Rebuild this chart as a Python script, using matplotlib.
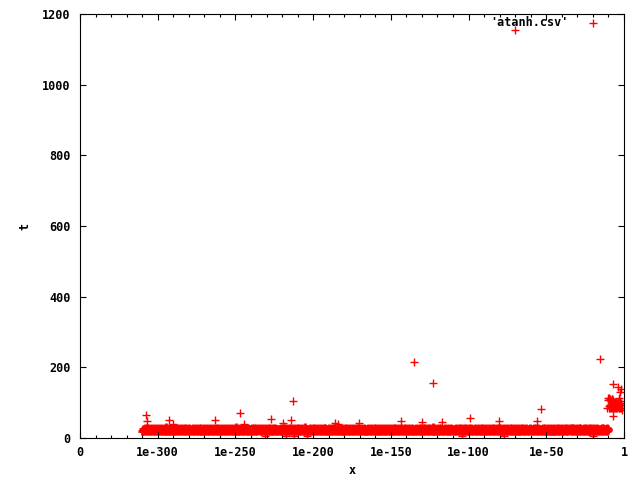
import numpy as np
import matplotlib
matplotlib.use("Agg")
import matplotlib.pyplot as plt
from matplotlib.ticker import MultipleLocator, FixedLocator

# ---- data (x in tick-position units: 0 .. 7) ----
x_tick_pos = [0, 1, 2, 3, 4, 5, 6, 7]
x_tick_labels = ['0', '1e-300', '1e-250', '1e-200', '1e-150', '1e-100', '1e-50', '1']
y_ticks = [0, 200, 400, 600, 800, 1000, 1200]

# dense band of timings (samples evenly spread between band_x_start and band_x_end)
band_x_start = 0.80
band_x_end = 6.80
band_t = [
    20,26,21,25,19,27,22,26,20,28,21,25,22,27,19,26,20,25,21,27,
    22,26,19,25,21,28,20,26,22,25,19,27,21,26,20,25,22,27,19,26,
    21,25,20,27,22,26,19,25,21,30,20,26,22,25,19,27,21,26,20,25,
    19,27,22,25,20,26,21,28,19,25,22,26,20,27,21,25,19,26,22,27,
    20,25,21,26,22,27,19,25,20,26,21,28,22,25,19,26,20,27,21,25,
    22,26,20,25,19,27,21,26,22,25,20,27,19,26,21,25,22,29,20,26,
    21,27,19,26,22,25,20,28,21,26,19,25,22,27,20,26,21,25,19,27,
    20,26,22,25,21,27,19,26,20,25,22,28,21,26,19,27,20,25,22,26,
    19,25,21,27,20,26,22,25,19,28,21,26,20,25,22,27,19,26,21,25,
    22,27,20,26,21,25,19,27,22,26,20,25,21,31,19,26,22,25,20,27,
    21,26,19,25,22,27,20,26,21,25,19,28,22,26,20,25,21,27,19,26,
    20,25,22,26,19,27,21,25,20,26,22,27,19,25,21,28,20,26,22,25,
    22,28,21,25,20,26,19,27,22,25,21,26,20,27,19,25,22,26,21,27,
    19,26,20,27,22,25,21,26,19,28,20,25,22,27,21,26,19,25,20,26,
    21,25,22,26,20,27,19,25,21,26,22,28,20,25,19,27,21,26,22,25,
    20,27,19,26,21,25,22,27,20,26,19,25,21,28,22,26,20,25,19,27,
    22,25,21,27,19,26,20,25,22,27,21,26,19,25,20,30,22,26,21,25,
    19,26,22,25,20,27,21,26,19,25,22,28,20,26,21,27,19,25,22,26,
    21,27,20,25,22,26,19,27,21,25,20,26,22,27,19,25,21,28,20,26,
    20,25,19,26,21,27,22,25,20,26,19,28,21,25,22,27,20,26,19,25,
    22,26,21,25,19,28,20,26,22,25,21,27,19,26,20,25,22,27,21,26,
    19,27,22,26,20,25,21,27,19,26,22,25,20,28,21,26,19,25,22,27,
    21,25,20,27,22,26,19,25,21,26,20,27,22,25,19,26,21,29,20,25,
    20,26,19,25,21,27,22,26,20,25,19,27,21,26,22,25,20,28,19,26,
    22,27,21,26,20,25,19,28,22,26,21,25,20,27,19,26,22,25,21,27,
    19,25,20,26,22,27,21,25,19,26,20,28,22,25,21,26,19,27,20,25,
    21,28,22,25,19,26,20,27,21,25,22,26,19,27,20,25,21,26,22,28,
    20,25,21,27,22,26,19,25,20,27,21,26,22,25,19,28,20,26,21,25,
    22,26,19,27,20,25,21,26,22,28,19,25,20,27,21,26,22,25,19,27,
    19,27,21,25,22,26,20,28,19,25,21,27,22,26,20,25,19,26,21,32,
    21,25,20,26,19,27,22,25,21,26,20,28,19,25,22,27,21,26,20,25,
    20,26,22,27,21,25,19,26,20,28,22,25,21,26,19,27,20,25,22,26,
    22,25,19,26,20,27,21,25,22,26,19,28,20,25,21,27,22,26,19,25,
    19,28,20,25,21,26,22,27,19,25,20,26,21,28,22,25,19,27,20,26,
    21,26,22,25,20,27,19,26,21,25,22,28,20,26,19,25,21,27,22,25,
    20,27,21,26,22,25,19,28,20,26,21,25,22,27,19,26,20,25,21,28,
    22,25,20,27,19,26,21,25,22,28,20,26,19,27,21,25,22,26,20,27,
    19,26,21,25,20,28,22,26,19,25,21,27,20,26,22,25,19,28,21,26,
    21,27,19,26,22,25,20,27,21,26,19,25,22,28,20,26,21,25,19,27,
    20,25,22,28,21,26,19,25,20,27,22,26,21,25,19,26,20,28,22,25,
    22,26,20,25,21,27,19,26,22,25,20,28,21,26,19,27,22,25,20,26,
    19,25,21,26,22,28,20,25,19,27,21,26,22,25,20,27,19,26,21,25,
    21,28,20,25,19,26,22,27,21,25,20,26,19,28,22,25,21,27,20,26,
    20,26,22,27,21,25,19,26,20,28,22,25,21,27,19,26,20,25,22,27,
    22,25,19,26,20,27,21,28,22,25,19,26,20,27,21,25,22,26,19,28,
    19,27,21,25,22,26,20,25,19,28,21,26,22,27,20,25,19,26,21,27,
    21,26,20,28,19,25,22,26,21,27,20,25,19,26,22,28,21,25,20,26,
    20,25,22,26,21,27,19,28,20,25,22,26,21,25,19,27,20,26,22,25,
]

outlier_x = [0.849, 0.862, 1.145, 1.197, 1.737, 2.059, 2.110, 2.381, 2.458, 2.612,
             2.651, 2.715, 2.741, 2.754, 2.921, 3.281, 3.320, 3.590, 4.131, 4.298,
             4.401, 4.542, 4.658, 4.916, 5.019, 5.392, 5.456, 5.598, 5.881, 5.932,
             6.601, 6.692]
outlier_t = [65, 48, 51, 40, 51, 71, 40, 5, 54, 42,
             5, 51, 105, 5, 5, 42, 40, 42, 48, 215,
             45, 156, 45, 5, 57, 48, 5, 1155, 48, 82,
             5, 224]

cluster_x = [6.81, 6.82, 6.83, 6.84, 6.85, 6.86, 6.87, 6.88, 6.89, 6.90, 6.91, 6.92, 6.93, 6.94, 6.95, 6.96,
             6.81, 6.82, 6.83, 6.84, 6.85, 6.86, 6.87, 6.88, 6.89, 6.90, 6.91, 6.92, 6.93, 6.94, 6.95,
             6.80, 6.81, 6.82, 6.83, 6.84, 6.85, 6.86,
             6.87, 6.88, 6.89, 6.90, 6.91, 6.92, 6.93, 6.94, 6.95, 6.96,
             6.859, 6.923, 6.962, 6.949, 6.936, 6.975, 6.859, 6.782, 6.794]
cluster_t = [84, 86, 85, 87, 84, 86, 85, 87, 86, 84, 85, 87, 86, 84, 85, 86,
             90, 92, 91, 89, 93, 90, 92, 91, 90, 92, 89, 91, 93, 90, 92,
             108, 112, 110, 106, 109, 111, 107,
             98, 101, 96, 103, 99, 102, 97, 100, 104, 98,
             153, 144, 139, 130, 113, 79, 62, 85, 113]

band_x = np.linspace(band_x_start, band_x_end, len(band_t))
sparse_x = np.concatenate([outlier_x, cluster_x])
sparse_t = np.concatenate([outlier_t, cluster_t])

# ---- figure ----
font = {'family': 'DejaVu Sans Mono', 'weight': 'bold', 'size': 8.5}
plt.rcParams['font.family'] = 'DejaVu Sans Mono'
plt.rcParams['font.weight'] = 'bold'
plt.rcParams['font.size'] = 8.5

fig = plt.figure(figsize=(6.4, 4.8), dpi=100)
ax = fig.add_axes([80 / 640, 42 / 480, 544 / 640, 424 / 480])

red = '#ff0000'
# dense part of the series: heavier strokes so overlapping marks merge into a solid band
ax.scatter(band_x, band_t, marker='+', color=red, s=30, linewidths=2.0)
# sparse part of the same series
ax.scatter(sparse_x, sparse_t, marker='+', color=red, s=30, linewidths=1.0,
           label="'atanh.csv'")

ax.set_xlim(0, 7)
ax.set_ylim(0, 1200)
ax.xaxis.set_major_locator(FixedLocator(x_tick_pos))
ax.set_xticklabels(x_tick_labels, fontdict=font)
ax.xaxis.set_minor_locator(MultipleLocator(0.2))
ax.set_yticks(y_ticks)
ax.set_yticklabels([str(v) for v in y_ticks], fontdict=font)

ax.tick_params(which='both', direction='in', top=True, right=True, width=0.8, color='black')
ax.tick_params(which='major', length=4)
ax.tick_params(which='minor', length=2)
ax.tick_params(axis='x', pad=6)
ax.tick_params(axis='y', pad=7)
for s in ax.spines.values():
    s.set_linewidth(0.8)
    s.set_color('black')

fig.text(352 / 640, 1 - 471 / 480, 'x', ha='center', va='center', fontdict=font)
fig.text(25 / 640, 1 - 226 / 480, 't', ha='center', va='center', rotation=90, fontdict=font)

ax.legend(loc='center right', bbox_to_anchor=(605 / 640, 1 - 23 / 480),
          bbox_transform=fig.transFigure, frameon=False, markerfirst=False,
          borderpad=0, borderaxespad=0, handlelength=2.0, handletextpad=1.1,
          scatterpoints=1, prop=font)

fig.savefig('out.png', dpi=100)
